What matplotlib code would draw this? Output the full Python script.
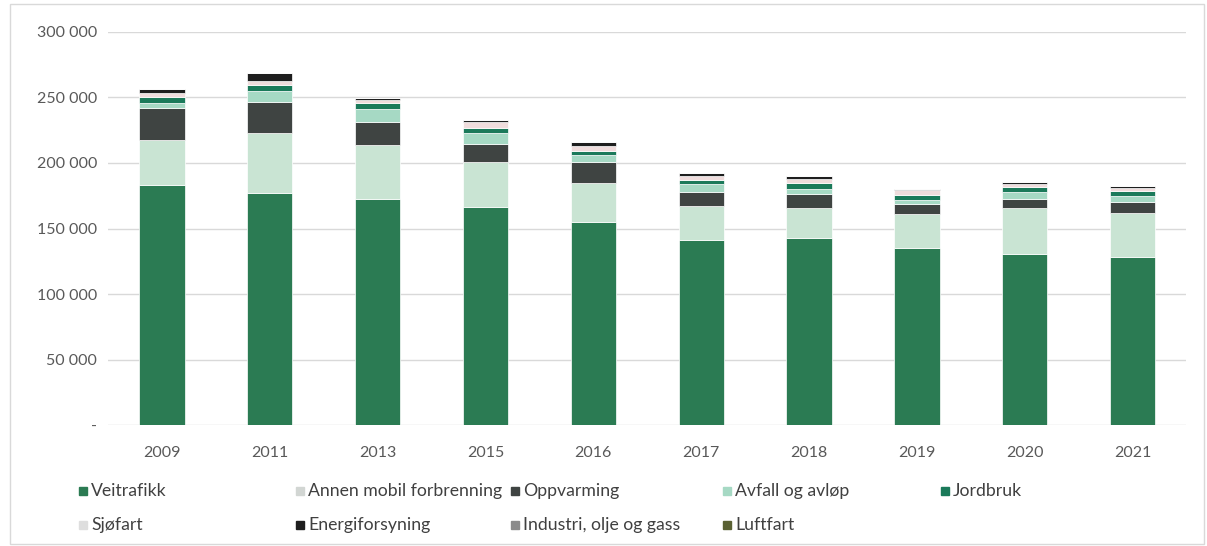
import matplotlib
matplotlib.use("Agg")
import matplotlib.pyplot as plt
from matplotlib.patches import Rectangle
import numpy as np

plt.rcParams['font.family'] = ['Lato', 'DejaVu Sans']

# years on the x axis
years = ['2009', '2011', '2013', '2015', '2016', '2017', '2018', '2019', '2020', '2021']

# emissions per sector (tonnes CO2-eq)
veitrafikk = [183000, 177000, 172200, 166600, 155100, 141000, 142400, 135000, 130500, 128200]
annen_mobil = [34300, 45800, 41400, 34300, 30000, 26000, 22900, 25700, 34900, 33800]
oppvarming = [24400, 24000, 17800, 13300, 15700, 10900, 10900, 7900, 7100, 8400]
avfall = [3800, 8000, 10200, 8400, 5100, 5900, 3600, 3000, 5100, 4600]
jordbruk = [4500, 5000, 4300, 4300, 3000, 3600, 4600, 3800, 3800, 3800]
sjofart = [3500, 3000, 2500, 4100, 3800, 3000, 3300, 3800, 2900, 2300]
energiforsyning = [3000, 6000, 1500, 1800, 3300, 2000, 2500, 1300, 900, 1300]
industri = [0, 0, 0, 0, 0, 0, 0, 0, 0, 0]
luftfart = [0, 0, 0, 0, 0, 0, 0, 0, 0, 0]

names = ['Veitrafikk', 'Annen mobil forbrenning', 'Oppvarming', 'Avfall og avløp',
         'Jordbruk', 'Sjøfart', 'Energiforsyning', 'Industri, olje og gass', 'Luftfart']
series = [veitrafikk, annen_mobil, oppvarming, avfall, jordbruk, sjofart,
          energiforsyning, industri, luftfart]
colors = ['#2b7b53', '#c9e4d3', '#3f4442', '#a6d9c4', '#1b7a5a', '#efdcdc',
          '#1e1e1e', '#8a8a8a', '#5a6133']
legend_colors = ['#2b7b53', '#d2d6d3', '#3f4442', '#a6d9c4', '#1b7a5a', '#dedede',
                 '#1e1e1e', '#8a8a8a', '#5a6133']

fig = plt.figure(figsize=(12.07, 5.46), dpi=100)
ax = fig.add_axes([0.0895, 0.2216, 0.8935, 0.7198])

x = np.arange(len(years))
bottom = np.zeros(len(years))
for vals, col in zip(series, colors):
    ax.bar(x, vals, width=0.42, bottom=bottom, color=col, edgecolor='white',
           linewidth=0.5, zorder=3)
    bottom += np.array(vals)

ax.set_xlim(-0.5, len(years) - 0.5)
ax.set_ylim(0, 300000)
yt = np.arange(0, 300001, 50000)
ax.set_yticks(yt)
ax.set_yticklabels(['-' if v == 0 else f"{v:,}".replace(',', ' ') for v in yt])
ax.set_xticks(x)
ax.set_xticklabels(years)
ax.tick_params(axis='both', length=0, labelsize=11.5, labelcolor='#595959')
ax.tick_params(axis='y', pad=8)
ax.tick_params(axis='x', pad=15)
ax.grid(axis='y', color='#d9d9d9', linewidth=1, zorder=0)
for s in ax.spines.values():
    s.set_visible(False)

# legend drawn by hand: two rows, five columns
col_x = [83, 300, 515, 727, 945]
row_y = [491, 525]
W, H = 1207, 546
for i, (name, col) in enumerate(zip(names, legend_colors)):
    r, c = divmod(i, 5)
    px, py = col_x[c], row_y[r]
    fig.patches.append(Rectangle(((px - 4) / W, 1 - (py + 4) / H), 8 / W, 8 / H,
                                 transform=fig.transFigure, color=col))
    fig.text((px + 8) / W, 1 - py / H, name, fontsize=12.7, color='#404040',
             va='center', ha='left')

# chart frame
fig.patches.append(Rectangle((10 / W, 2 / H), 1194 / W, 540 / H, transform=fig.transFigure,
                             fill=False, edgecolor='#d9d9d9', linewidth=1))

fig.savefig('out.png', dpi=100)
